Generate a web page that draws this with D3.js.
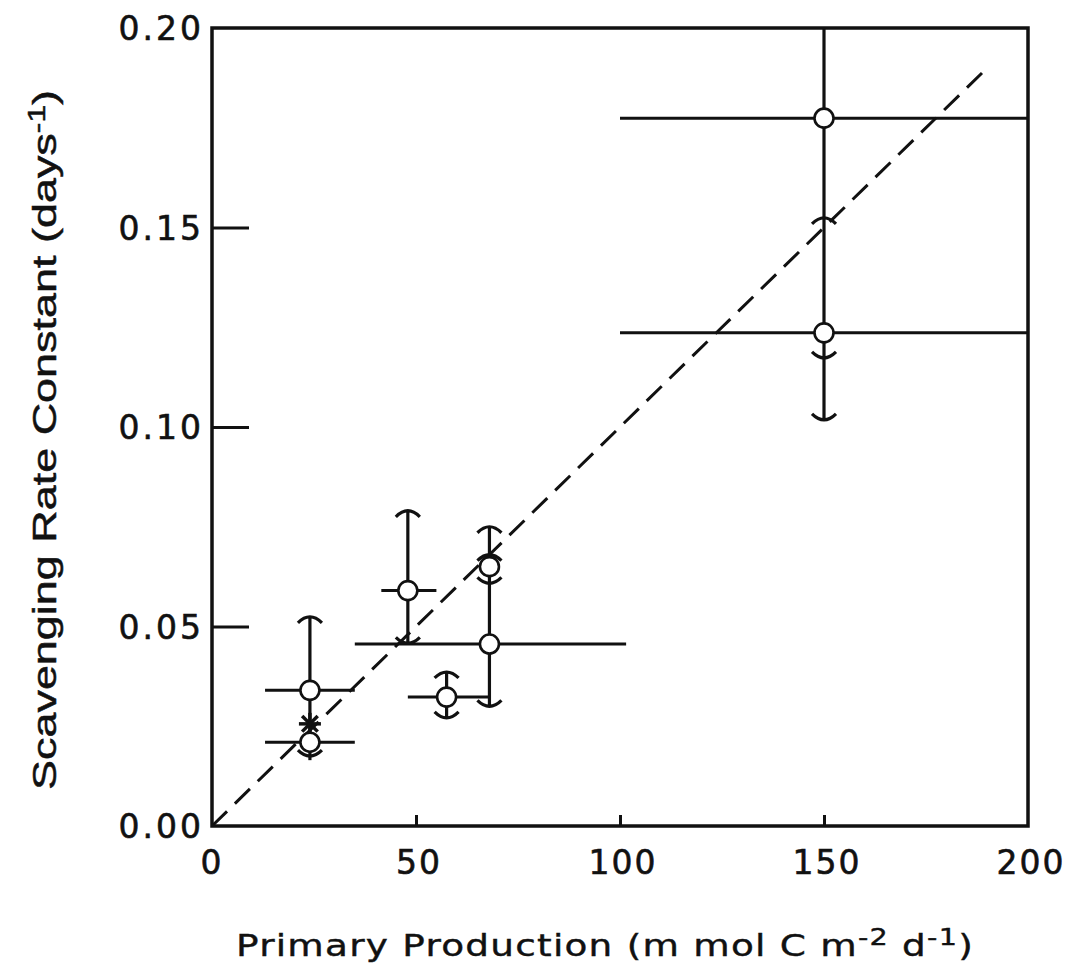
<!DOCTYPE html>
<html>
<head>
<meta charset="utf-8">
<script src="https://cdn.jsdelivr.net/npm/d3@7"></script>
<style>
  body { margin: 0; background: #fff; }
  svg { display: block; }
</style>
</head>
<body>
<div id="chart"></div>
<script>
// values
const circleX = [24, 24, 48, 68, 68, 57.5, 150, 150];
const circleY = [0.034, 0.021, 0.059, 0.0456, 0.065, 0.0323, 0.1774, 0.1236];
// horizontal ranges (null = none)
const xLow  = [13, 13, 41.5, 35, null, 48, 100, 100];
const xHigh = [35, 35, 55, 101.5, null, 68, 200, 200];

// vertical ranges
const vBarX  = [24, 48, 68, 57.5, 150];
const vBarLo = [0.0165, 0.0454, 0.030, 0.0271, 0.1018];
const vBarHi = [0.0524, 0.079, 0.075, 0.0386, 0.20];

// curved caps on the vertical bars
const capX   = [24, 24, 48, 48, 68, 68, 68, 68, 57.5, 57.5, 150, 150, 150];
const capY   = [0.0524, 0.0175, 0.079, 0.0458, 0.075, 0.068, 0.0608, 0.030, 0.0386, 0.0271, 0.1524, 0.1173, 0.1018];
const capDir = ["up", "down", "up", "down", "up", "up", "down", "down", "up", "down", "up", "down", "down"];

const starX = [24];
const starY = [0.0256];

const fitX = [0, 190];
const fitY = [0, 0.19];

const xTicks = [0, 50, 100, 150, 200];
const yTicks = [0, 0.05, 0.10, 0.15, 0.20];

const W = 1083, H = 972;
const margin = {top: 28, right: 55, bottom: 146, left: 212};

const svg = d3.select("#chart").append("svg")
  .attr("width", W).attr("height", H);

const x = d3.scaleLinear().domain([0, 200]).range([margin.left, W - margin.right]);
const y = d3.scaleLinear().domain([0, 0.2]).range([H - margin.bottom, margin.top]);

const ink = "#111";

// axes: ticks point inward
svg.append("g")
  .attr("transform", "translate(" + x(0) + ",0)")
  .call(d3.axisRight(y).tickValues([0.05, 0.10, 0.15]).tickSize(37).tickFormat(""))
  .call(g => g.select(".domain").remove())
  .selectAll("line").attr("stroke", ink).attr("stroke-width", 3);

svg.append("g")
  .attr("transform", "translate(0," + y(0) + ")")
  .call(d3.axisTop(x).tickValues([50, 100, 150]).tickSize(11).tickFormat(""))
  .call(g => g.select(".domain").remove())
  .selectAll("line").attr("stroke", ink).attr("stroke-width", 3);

// tick labels
svg.append("g").selectAll("text").data(yTicks).join("text")
  .attr("x", x(0) - 8)
  .attr("y", d => y(d) + 12)
  .attr("text-anchor", "end")
  .attr("font-family", "DejaVu Sans")
  .attr("font-size", 33)
  .attr("letter-spacing", 3)
  .attr("stroke", ink).attr("stroke-width", 0.6)
  .attr("fill", ink)
  .text(d => d3.format(".2f")(d));

svg.append("g").selectAll("text").data(xTicks).join("text")
  .attr("x", d => x(d) + (d === 0 ? 0 : 3))
  .attr("y", y(0) + 48)
  .attr("text-anchor", "middle")
  .attr("font-family", "DejaVu Sans")
  .attr("font-size", 33)
  .attr("letter-spacing", 2)
  .attr("stroke", ink).attr("stroke-width", 0.6)
  .attr("fill", ink)
  .text(d => d);

// fitted line
svg.append("line")
  .attr("x1", x(fitX[0])).attr("y1", y(fitY[0]))
  .attr("x2", x(fitX[1])).attr("y2", y(fitY[1]))
  .attr("stroke", ink).attr("stroke-width", 3)
  .attr("stroke-dasharray", "21,11");

// horizontal bars
const hIdx = d3.range(circleX.length).filter(i => xLow[i] !== null);
svg.append("g").selectAll("line").data(hIdx).join("line")
  .attr("x1", i => x(xLow[i])).attr("x2", i => x(xHigh[i]))
  .attr("y1", i => y(circleY[i])).attr("y2", i => y(circleY[i]))
  .attr("stroke", ink).attr("stroke-width", 3);

// vertical bars
svg.append("g").selectAll("line").data(vBarX).join("line")
  .attr("x1", d => x(d)).attr("x2", d => x(d))
  .attr("y1", (d, i) => y(vBarLo[i])).attr("y2", (d, i) => y(vBarHi[i]))
  .attr("stroke", ink).attr("stroke-width", 3.2);

// caps
svg.append("g").selectAll("path").data(capX).join("path")
  .attr("d", (d, i) => {
    const cx = x(d), cy = y(capY[i]);
    const s = capDir[i] === "up" ? 1 : -1;
    return "M" + (cx - 12) + "," + (cy + 6 * s) +
      " Q" + cx + "," + (cy - 6 * s) + " " + (cx + 12) + "," + (cy + 6 * s);
  })
  .attr("fill", "none").attr("stroke", ink).attr("stroke-width", 3.2);

// asterisk
starX.forEach((sx, i) => {
  const cx = x(sx), cy = y(starY[i]);
  const g = svg.append("g").attr("transform", "translate(" + cx + "," + cy + ")");
  [0, 45, 90, 135].forEach(a => {
    g.append("line")
      .attr("x1", -11).attr("x2", 11).attr("y1", 0).attr("y2", 0)
      .attr("transform", "rotate(" + a + ")")
      .attr("stroke", ink).attr("stroke-width", 3.5);
  });
});

// circles
svg.append("g").selectAll("circle").data(circleX).join("circle")
  .attr("cx", d => x(d)).attr("cy", (d, i) => y(circleY[i]))
  .attr("r", 9.5)
  .attr("fill", "#fff").attr("stroke", ink).attr("stroke-width", 2.6);

// frame
svg.append("rect")
  .attr("x", x(0)).attr("y", y(0.2))
  .attr("width", x(200) - x(0)).attr("height", y(0) - y(0.2))
  .attr("fill", "none").attr("stroke", ink).attr("stroke-width", 3.5);

// axis titles
svg.append("text")
  .attr("x", 236).attr("y", 956)
  .attr("font-family", "DejaVu Sans")
  .attr("font-size", 30)
  .attr("letter-spacing", 1)
  .attr("stroke", ink).attr("stroke-width", 0.4)
  .attr("fill", ink)
  .attr("textLength", 738)
  .attr("lengthAdjust", "spacingAndGlyphs")
  .html('Primary Production (m mol C m<tspan dy="-11" font-size="23">-2</tspan><tspan dy="11"> d</tspan><tspan dy="-11" font-size="23">-1</tspan><tspan dy="11">)</tspan>');

svg.append("text")
  .attr("transform", "translate(56,790) rotate(-90)")
  .attr("font-family", "Liberation Sans")
  .attr("font-size", 34)
  .attr("stroke", ink).attr("stroke-width", 0.5)
  .attr("fill", ink)
  .attr("textLength", 700)
  .attr("lengthAdjust", "spacingAndGlyphs")
  .html('Scavenging Rate Constant (days<tspan dy="-11" font-size="24">-1</tspan><tspan dy="11">)</tspan>');
</script>
</body>
</html>
